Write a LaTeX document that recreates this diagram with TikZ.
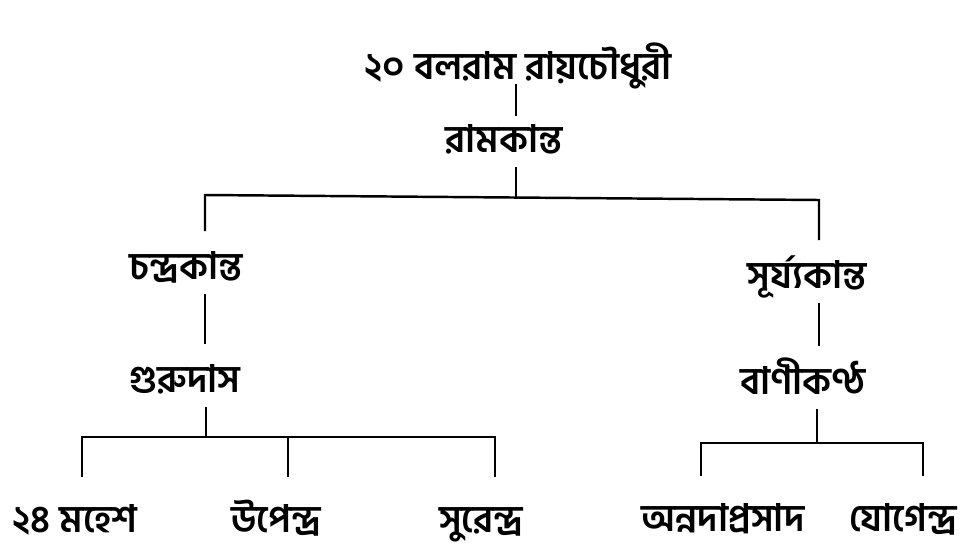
\documentclass[tikz,border=0pt]{standalone}
\usepackage{fontspec}
\newfontfamily\bangla[Script=Bengali]{Hind Siliguri}
\usepackage{tikz}

\tikzset{
	person/.style={font=\bangla\bfseries\fontsize{21.5}{26}\selectfont,anchor=base,inner sep=0pt,text height=0.5cm,text depth=0.3cm},
	link/.style={line width=1.4pt},
	stem/.style={link,shorten >=0.45cm},
	drop/.style={link,shorten <=0.6cm,shorten >=0.6cm},
}

\begin{document}
\begin{tikzpicture}
	\useasboundingbox (0,0) rectangle (19.5,11.1);
	
	%names
	\node[person] (balaram) at (10.36,9.52) {২০ বলরাম রায়চৌধুরী};
	\node[person] (ramkanta) at (10.08,8.06) {রামকান্ত};
	\node[person] (chandra) at (3.72,5.52) {চন্দ্রকান্ত};
	\node[person] (surya) at (16.14,5.34) {সূর্য্যকান্ত};
	\node[person] (guru) at (3.70,3.26) {গুরুদাস};
	\node[person] (bani) at (16.06,3.22) {বাণীকণ্ঠ};
	\node[person] (mahesh) at (1.50,0.46) {২৪ মহেশ};
	\node[person] (upendra) at (5.52,0.46) {উপেন্দ্র};
	\node[person] (surendra) at (9.62,0.46) {সুরেন্দ্র};
	\node[person] (annada) at (14.46,0.48) {অন্নদাপ্রসাদ};
	\node[person] (yogendra) at (18.06,0.48) {যোগেন্দ্র};
	
	%forks
	\coordinate (fork1) at (10.32,7.15);
	\coordinate (barL) at (4.10,7.20);
	\coordinate (barR) at (16.38,7.10);
	\coordinate (fork2) at (4.12,2.36);
	\coordinate (barA) at (1.64,2.36);
	\coordinate (barB) at (5.76,2.36);
	\coordinate (barC) at (9.90,2.36);
	\coordinate (fork3) at (16.34,2.24);
	\coordinate (barD) at (14.02,2.24);
	\coordinate (barE) at (18.46,2.24);
	
	%top
	\draw[link,shorten <=-0.2cm,shorten >=0.22cm] (balaram.south -| fork1)--(ramkanta.north -| fork1);
	\draw[link] (ramkanta.south -| fork1)--(fork1);
	\draw[link,shorten <=0.45cm,shorten >=0.45cm] (barL |- chandra.north)--(barL)--(barR)--(barR |- surya.north);
	
	%left
	\draw[stem] (chandra.south -| barL)--(guru.north -| barL);
	\draw[link] (guru.south -| fork2)--(fork2);
	\draw[drop] (barA |- mahesh.north)--(barA)--(barC)--(barC |- surendra.north);
	\draw[link,shorten >=0.6cm] (barB)--(barB |- upendra.north);
	
	%right
	\draw[stem] (surya.south -| barR)--(bani.north -| barR);
	\draw[link] (bani.south -| fork3)--(fork3);
	\draw[drop] (barD |- annada.north)--(barD)--(barE)--(barE |- yogendra.north);
\end{tikzpicture}
\end{document}
